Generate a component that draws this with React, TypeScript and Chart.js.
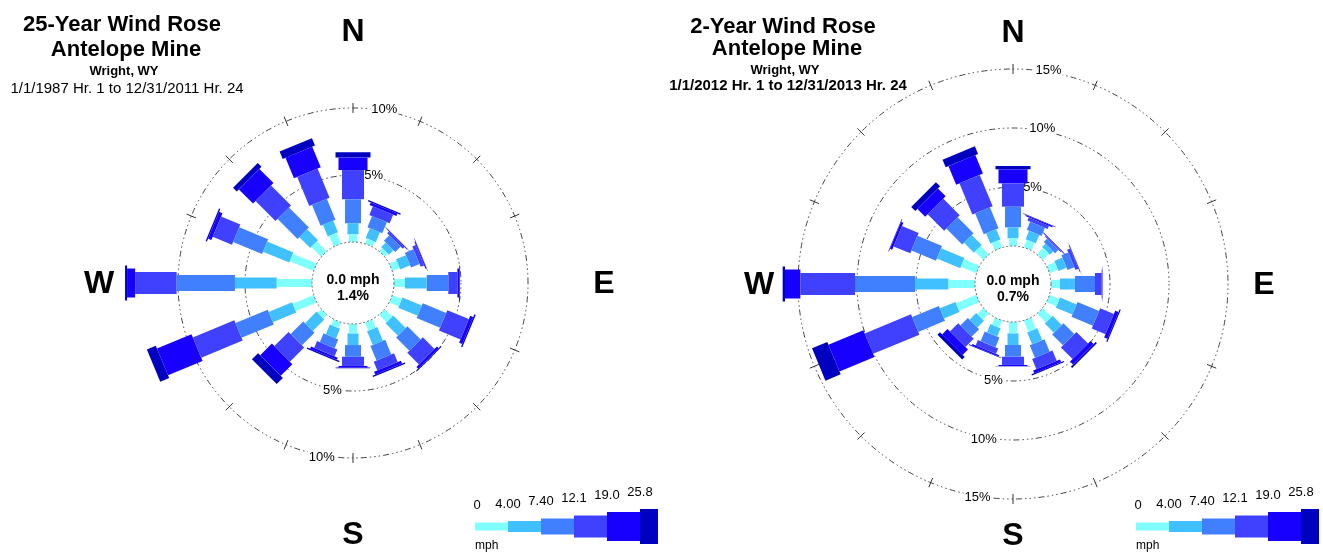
import React, { useEffect, useRef } from 'react';
import { Chart, registerables } from 'chart.js';

Chart.register(...registerables);

// ---------- data ----------
const DIRECTIONS = ['N', 'NNE', 'NE', 'ENE', 'E', 'ESE', 'SE', 'SSE', 'S', 'SSW', 'SW', 'WSW', 'W', 'WNW', 'NW', 'NNW'];
const SPEED_LABELS = ['0', '4.00', '7.40', '12.1', '19.0', '25.8'];
const CLASS_COLORS = ['#80ffff', '#40c0ff', '#4080ff', '#4040ff', '#1800ff', '#0000c0'];

// 25-year rose: percent of hours per speed class, by direction (N clockwise)
const A_CALM = 1.4;
const A_C1 = [0.57, 0.4, 0.32, 0.58, 0.82, 0.76, 0.78, 0.67, 0.7, 0.46, 0.37, 1.69, 2.63, 1.92, 1.04, 0.86];
const A_C2 = [0.83, 0.8, 0.48, 0.8, 1.62, 1.57, 1.31, 1.11, 0.87, 0.79, 1.23, 1.89, 3.12, 2.12, 1.15, 0.95];
const A_C3 = [1.79, 0.9, 0.57, 0.69, 1.61, 1.89, 1.4, 1.18, 0.87, 0.72, 1.32, 2.61, 4.35, 2.34, 2.11, 1.68];
const A_C4 = [2.18, 0.7, 0.18, 0.28, 0.68, 1.74, 1.23, 0.71, 0.69, 0.55, 1.5, 3.35, 3.1, 1.55, 2.11, 2.35];
const A_C5 = [0.93, 0.2, 0.05, 0.07, 0.14, 0.25, 0.18, 0.23, 0.12, 0.18, 1.23, 2.79, 0.6, 0.27, 1.49, 1.66];
const A_C6 = [0.4, 0.1, 0.02, 0.03, 0.05, 0.1, 0.08, 0.1, 0.05, 0.1, 0.65, 0.72, 0.15, 0.1, 0.4, 0.6];
const A_RINGS = [5, 10];

// 2-year rose
const B_CALM = 0.7;
const B_C1 = [0.65, 0.7, 0.74, 0.76, 0.76, 0.9, 1.06, 1.04, 0.96, 0.65, 0.72, 1.87, 2.25, 1.42, 1.0, 0.68];
const B_C2 = [0.93, 0.77, 0.4, 0.74, 1.27, 1.52, 1.09, 1.08, 0.99, 0.76, 0.8, 1.43, 2.83, 2.15, 1.19, 0.94];
const B_C3 = [1.75, 0.75, 0.4, 0.63, 1.7, 1.97, 1.3, 1.15, 0.99, 0.89, 0.9, 2.45, 5.09, 2.25, 1.91, 1.91];
const B_C4 = [1.98, 0.28, 0.1, 0.27, 0.57, 1.26, 1.4, 0.94, 0.7, 0.5, 0.99, 4.25, 4.63, 1.53, 1.98, 2.87];
const B_C5 = [1.19, 0.1, 0.05, 0.05, 0.05, 0.3, 0.35, 0.24, 0.1, 0.13, 0.64, 3.2, 1.3, 0.2, 0.92, 1.7];
const B_C6 = [0.28, 0.05, 0.02, 0.02, 0.02, 0.1, 0.15, 0.1, 0.03, 0.05, 0.3, 1.4, 0.2, 0.05, 0.5, 0.7];
const B_RINGS = [5, 10, 15];

const A_TITLE = ['25-Year Wind Rose', 'Antelope Mine', 'Wright, WY', '1/1/1987 Hr. 1 to 12/31/2011 Hr. 24'];
const B_TITLE = ['2-Year Wind Rose', 'Antelope Mine', 'Wright, WY', '1/1/2012 Hr. 1 to 12/31/2013 Hr. 24'];

// ---------- styling / layout ----------
const FONT = '"Liberation Sans", Arial, Helvetica, sans-serif';
const CLASS_WIDTHS = [8, 11, 16, 22, 29, 35];
const H = 552;

type Spec = {
  title: string[];
  titleBaselines: number[];
  dateBold: boolean;
  calm: number;
  classes: number[][];
  rings: number[];
  left: number;
  width: number;
  cx: number;
  cy: number;
  pxPerPct: number;
  calmOffset: number;
};

const SPEC_A: Spec = {
  title: A_TITLE,
  titleBaselines: [31, 56, 75, 93],
  dateBold: false,
  calm: A_CALM,
  classes: [A_C1, A_C2, A_C3, A_C4, A_C5, A_C6],
  rings: A_RINGS,
  left: 0,
  width: 661,
  cx: 353,
  cy: 283,
  pxPerPct: 13.4,
  calmOffset: 3.06,
};

const SPEC_B: Spec = {
  title: B_TITLE,
  titleBaselines: [33, 55, 74, 90],
  dateBold: true,
  calm: B_CALM,
  classes: [B_C1, B_C2, B_C3, B_C4, B_C5, B_C6],
  rings: B_RINGS,
  left: 661,
  width: 662,
  cx: 352,
  cy: 284,
  pxPerPct: 11.8,
  calmOffset: 3.22,
};

function buildDatasets(spec: Spec) {
  const sets: any[] = [];
  DIRECTIONS.forEach((_d, di) => {
    const a = (di * 22.5 * Math.PI) / 180;
    let cum = 0;
    spec.classes.forEach((arr, ci) => {
      const v = arr[di];
      const r1 = spec.calmOffset + cum;
      const r2 = spec.calmOffset + cum + v;
      cum += v;
      sets.push({
        label: DIRECTIONS[di] + ' ' + SPEED_LABELS[ci],
        data: [
          { x: r1 * Math.sin(a), y: r1 * Math.cos(a) },
          { x: r2 * Math.sin(a), y: r2 * Math.cos(a) },
        ],
        showLine: true,
        borderColor: CLASS_COLORS[ci],
        backgroundColor: CLASS_COLORS[ci],
        borderWidth: CLASS_WIDTHS[ci],
        borderCapStyle: 'butt',
        borderJoinStyle: 'bevel',
        // a dash longer than any bar keeps the line solid and avoids the
        // pixel-decimating fast path that would distort near-vertical bars
        borderDash: [5000, 1],
        pointRadius: 0,
        pointHoverRadius: 0,
        fill: false,
        tension: 0,
      });
    });
  });
  return sets;
}

function makePlugin(spec: Spec) {
  return {
    id: 'roseDecor',
    beforeDatasetsDraw(chart: any) {
      const ctx = chart.ctx as CanvasRenderingContext2D;
      const xs = chart.scales.x;
      const ys = chart.scales.y;
      const cx = xs.getPixelForValue(0);
      const cy = ys.getPixelForValue(0);
      const rad = (u: number) => xs.getPixelForValue(u) - cx;
      ctx.save();
      // rings
      spec.rings.forEach((ring) => {
        const r = rad(spec.calmOffset + ring);
        ctx.setLineDash([1.5, 3, 1.5, 3, 1.5, 3, 6, 3]);
        ctx.strokeStyle = '#444';
        ctx.lineWidth = 1;
        ctx.beginPath();
        ctx.arc(cx, cy, r, 0, Math.PI * 2);
        ctx.stroke();
      });
      ctx.setLineDash([]);
      // ticks on outer ring
      const rOuter = rad(spec.calmOffset + spec.rings[spec.rings.length - 1]);
      ctx.strokeStyle = '#333';
      DIRECTIONS.forEach((d, di) => {
        if (d === 'E' || d === 'W') return;
        const a = (di * 22.5 * Math.PI) / 180;
        const s = Math.sin(a);
        const c = Math.cos(a);
        ctx.beginPath();
        ctx.moveTo(cx + (rOuter - 5) * s, cy - (rOuter - 5) * c);
        ctx.lineTo(cx + (rOuter + 5) * s, cy - (rOuter + 5) * c);
        ctx.stroke();
      });
      // ring labels
      ctx.font = '13px ' + FONT;
      ctx.textBaseline = 'middle';
      spec.rings.forEach((ring) => {
        const r = rad(spec.calmOffset + ring);
        const t = ring + '%';
        const w = ctx.measureText(t).width;
        const ang = (6 * Math.PI) / 180;
        const tx = cx + r * Math.sin(ang);
        const ty = cy - r * Math.cos(ang);
        ctx.fillStyle = '#fff';
        ctx.fillRect(tx - 1, ty - 7, w + 2, 14);
        ctx.fillStyle = '#000';
        ctx.textAlign = 'left';
        ctx.fillText(t, tx, ty);
        const bx = cx - r * Math.sin(ang);
        const by = cy + r * Math.cos(ang);
        ctx.fillStyle = '#fff';
        ctx.fillRect(bx - w - 1, by - 7, w + 2, 14);
        ctx.fillStyle = '#000';
        ctx.textAlign = 'right';
        ctx.fillText(t, bx, by);
      });
      ctx.restore();
    },
    afterDatasetsDraw(chart: any) {
      const ctx = chart.ctx as CanvasRenderingContext2D;
      const xs = chart.scales.x;
      const ys = chart.scales.y;
      const cx = xs.getPixelForValue(0);
      const cy = ys.getPixelForValue(0);
      const rad = (u: number) => xs.getPixelForValue(u) - cx;
      ctx.save();
      // calm circle
      const r0 = rad(spec.calmOffset);
      ctx.setLineDash([2, 2]);
      ctx.strokeStyle = '#666';
      ctx.lineWidth = 1;
      ctx.beginPath();
      ctx.arc(cx, cy, r0, 0, Math.PI * 2);
      ctx.stroke();
      ctx.setLineDash([]);
      // center text
      ctx.fillStyle = '#000';
      ctx.textAlign = 'center';
      ctx.textBaseline = 'middle';
      ctx.font = 'bold 14px ' + FONT;
      ctx.fillText('0.0 mph', cx, cy - 3);
      ctx.fillText(spec.calm.toFixed(1) + '%', cx, cy + 13);
      // cardinal letters
      ctx.font = 'bold 32px ' + FONT;
      ctx.fillText('N', cx, cy - 251);
      ctx.fillText('S', cx, cy + 252);
      ctx.fillText('E', cx + 251, cy + 1);
      ctx.fillText('W', cx - 254, cy + 1);
      // titles
      ctx.textBaseline = 'alphabetic';
      const tX = 124;
      ctx.font = 'bold 22px ' + FONT;
      ctx.fillText(spec.title[0], tX - 2, spec.titleBaselines[0]);
      ctx.fillText(spec.title[1], tX + 2, spec.titleBaselines[1]);
      ctx.font = 'bold 13px ' + FONT;
      ctx.fillText(spec.title[2], tX, spec.titleBaselines[2]);
      ctx.font = (spec.dateBold ? 'bold ' : '') + '15px ' + FONT;
      ctx.fillText(spec.title[3], tX + 3, spec.titleBaselines[3]);
      // legend
      const lx = 475;
      const ly = 526.5;
      const segLens = [33, 33, 33, 33, 33, 18];
      let x0 = lx;
      ctx.font = '13px ' + FONT;
      ctx.textBaseline = 'middle';
      CLASS_COLORS.forEach((col, ci) => {
        const h = CLASS_WIDTHS[ci];
        ctx.fillStyle = col;
        ctx.fillRect(x0, ly - h / 2, segLens[ci], h);
        ctx.fillStyle = '#000';
        ctx.textAlign = 'center';
        ctx.fillText(SPEED_LABELS[ci], x0 + (ci === 0 ? 2 : 0), ly - h / 2 - 17);
        x0 += segLens[ci];
      });
      ctx.font = '12px ' + FONT;
      ctx.textAlign = 'left';
      ctx.fillText('mph', lx, 546);
      ctx.restore();
    },
  };
}

function Rose({ spec }: { spec: Spec }) {
  const ref = useRef<HTMLCanvasElement | null>(null);
  useEffect(() => {
    if (!ref.current) return;
    const k = spec.pxPerPct;
    const chart = new Chart(ref.current, {
      type: 'scatter',
      data: { datasets: buildDatasets(spec) },
      options: {
        responsive: false,
        maintainAspectRatio: false,
        animation: false,
        devicePixelRatio: 1,
        events: [],
        layout: { padding: 0 },
        plugins: {
          legend: { display: false },
          tooltip: { enabled: false },
          title: { display: false },
        },
        scales: {
          x: { type: 'linear', display: false, min: -spec.cx / k, max: (spec.width - spec.cx) / k },
          y: { type: 'linear', display: false, min: -(H - spec.cy) / k, max: spec.cy / k },
        },
      },
      plugins: [makePlugin(spec)],
    } as any);
    return () => chart.destroy();
  }, [spec]);
  return (
    <canvas
      ref={ref}
      width={spec.width}
      height={H}
      style={{ position: 'absolute', left: spec.left, top: 0, width: spec.width, height: H }}
    />
  );
}

export default function App() {
  return (
    <div style={{ position: 'absolute', left: 0, top: 0, width: 1323, height: H, background: '#fff', overflow: 'hidden' }}>
      <Rose spec={SPEC_A} />
      <Rose spec={SPEC_B} />
    </div>
  );
}
